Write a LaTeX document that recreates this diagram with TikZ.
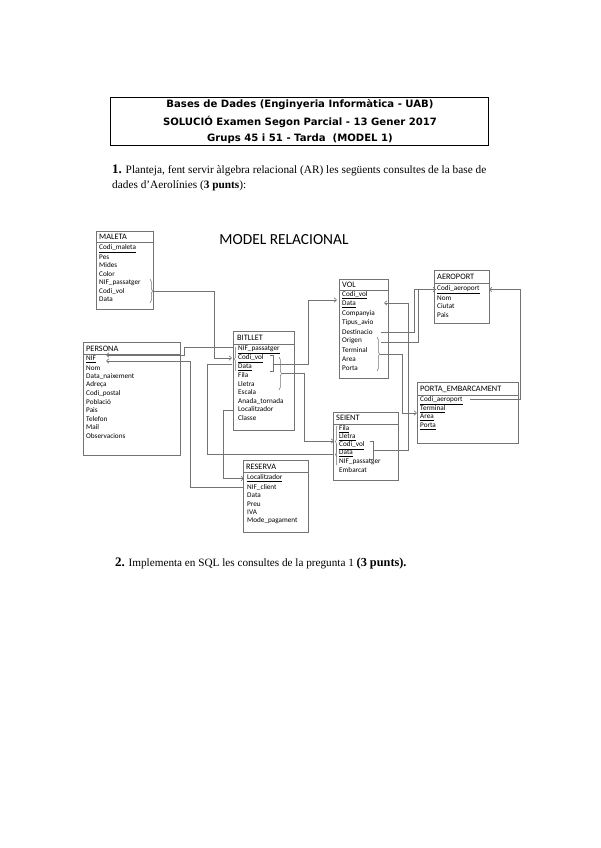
\documentclass[tikz,border=0pt]{standalone}
\usepackage{fontspec}
\setmainfont{Liberation Serif}
\newfontfamily\tabfont{Carlito}
\newfontfamily\capfont{DejaVu Sans}
\usetikzlibrary{arrows.meta,decorations.pathreplacing}

\tikzset{
  box/.style={draw=black!55, line width=0.6pt},
  thead/.style={anchor=west, inner sep=0pt, font=\tabfont\fontsize{8.3}{9}\selectfont},
  fld/.style={anchor=west, inner sep=0pt, font=\tabfont\fontsize{7.2}{8}\selectfont},
  conn/.style={draw=black!55, line width=0.6pt},
  fk/.style={conn, -{Straight Barb[length=2.5pt,width=4.5pt]}},
  brc/.style={draw=black!55, line width=0.5pt, decorate, decoration={brace, amplitude=2.5pt}},
  brk/.style={draw=black!55, line width=0.5pt},
}

\begin{document}
\begin{tikzpicture}[x=1pt, y=-1pt]
\useasboundingbox (0,0) rectangle (600,848);

% capcalera
\draw[line width=0.8pt] (110,97) rectangle (488,145);
\node (tit1) at (300,105) {\capfont\bfseries\fontsize{10.1}{12}\selectfont Bases de Dades (Enginyeria Informàtica - UAB)};
\node (tit2) at (300,122) {\capfont\bfseries\fontsize{10.1}{12}\selectfont SOLUCIÓ Examen Segon Parcial - 13 Gener 2017};
\node (tit3) at (300,139) {\capfont\bfseries\fontsize{10.1}{12}\selectfont Grups 45 i 51 - Tarda\ \ (MODEL 1)};

% pregunta 1
\node[anchor=west, inner sep=0pt] (preg1a) at (112,170) {\fontsize{11.3}{13}\selectfont{\fontsize{13}{13}\selectfont\bfseries 1.} Planteja, fent servir àlgebra relacional (AR) les següents consultes de la base de};
\node[anchor=west, inner sep=0pt] (preg1b) at (112,186) {\fontsize{11.3}{13}\selectfont dades d'Aerolínies (\textbf{3 punts}):};

\node (model) at (284,240) {\tabfont\fontsize{15.4}{17}\selectfont MODEL RELACIONAL};

% MALETA
\draw[box] (96,231) rectangle (153,309);
\draw[box] (96,242) -- (153,242);
\node[thead] (maleta) at (99,236.5) {MALETA};
\node[fld] (malCodi) at (99,248.5) {\underline{Codi\_maleta}};
\node[fld] (malPes) at (99,257) {Pes};
\node[fld] (malMides) at (99,265.5) {Mides};
\node[fld] (malColor) at (99,274) {Color};
\node[fld] (malNIF) at (99,282.5) {NIF\_passatger};
\node[fld] (malVol) at (99,291) {Codi\_vol};
\node[fld] (malData) at (99,299.5) {Data};
\draw[brc] (150,279) -- (150,303);
\coordinate (malTip) at (153,291);

% PERSONA
\draw[box] (83,342) rectangle (180,455);
\draw[box] (83,354) -- (180,354);
\node[thead] (persona) at (86,348.5) {PERSONA};
\node[fld] (perNIF) at (86,359.5) {\underline{NIF}};
\node[fld] (perNom) at (86,368) {Nom};
\node[fld] (perNaix) at (86,376.5) {Data\_naixement};
\node[fld] (perAdr) at (86,385) {Adreça};
\node[fld] (perCP) at (86,393.5) {Codi\_postal};
\node[fld] (perPob) at (86,402) {Població};
\node[fld] (perPais) at (86,410.5) {Pais};
\node[fld] (perTel) at (86,419) {Telefon};
\node[fld] (perMail) at (86,427.5) {Mail};
\node[fld] (perObs) at (86,436) {Observacions};
\coordinate (perIn1) at (106,355);
\coordinate (perIn2) at (106,361);

% BITLLET
\draw[box] (233,331) rectangle (294,430);
\draw[box] (233,344) -- (294,344);
\node[thead] (bitllet) at (237,338) {BITLLET};
\node[fld] (bitNIF) at (238,350) {\underline{NIF\_passatger}};
\node[fld] (bitVol) at (238,358.5) {\underline{Codi\_vol}};
\node[fld] (bitData) at (238,367) {\underline{Data}};
\node[fld] (bitFila) at (238,375.5) {Fila};
\node[fld] (bitLletra) at (238,384) {Lletra};
\node[fld] (bitEscala) at (238,392.5) {Escala};
\node[fld] (bitAnada) at (238,401) {Anada\_tornada};
\node[fld] (bitLoc) at (238,409.5) {Localitzador};
\node[fld] (bitClasse) at (238,418) {Classe};
\draw[brc, decoration={amplitude=1.5pt}] (236,371) -- (236,347);
\draw[brk] (270,355) -- (273,355) -- (273,371) -- (270,371);
\draw[brc] (279,357) -- (279,390);
\coordinate (bitNIFout) at (233,347);
\coordinate (bitLocOut) at (233,410);
\coordinate (bitIn1) at (232,358);
\coordinate (bitIn2) at (232,364);
\coordinate (bitBrk) at (273,364);
\coordinate (bitTip) at (282,373);

% VOL
\draw[box] (339,279) rectangle (388,378);
\draw[box] (339,290) -- (388,290);
\node[thead] (vol) at (342,284.5) {VOL};
\node[fld] (volCodi) at (342,295) {\underline{Codi\_vol}};
\node[fld] (volData) at (342,304.2) {\underline{Data}};
\node[fld] (volComp) at (342,313.4) {Companyia};
\node[fld] (volTipus) at (342,322.6) {Tipus\_avio};
\node[fld] (volDest) at (342,331.8) {Destinacio};
\node[fld] (volOrig) at (342,341) {Origen};
\node[fld] (volTerm) at (342,350.2) {Terminal};
\node[fld] (volArea) at (342,359.4) {Area};
\node[fld] (volPorta) at (342,368.6) {Porta};
\draw[brc] (377,337) -- (377,371);
\coordinate (volIn1) at (337,300);
\coordinate (volIn2) at (384,303);
\coordinate (volDestOut) at (381,332);
\coordinate (volOrigOut) at (381,342);
\coordinate (volTip) at (380,354);

% AEROPORT
\draw[box] (434,270) rectangle (489,323);
\draw[box] (434,283) -- (489,283);
\node[thead] (aeroport) at (437,277) {AEROPORT};
\node[fld] (aerCodi) at (437,289.5) {\underline{Codi\_aeroport}};
\node[fld] (aerNom) at (437,298) {Nom};
\node[fld] (aerCiutat) at (437,306.5) {Ciutat};
\node[fld] (aerPais) at (437,315) {Pais};
\coordinate (aerInL) at (436,289.5);
\coordinate (aerInR) at (489,289.5);

% PORTA_EMBARCAMENT
\draw[box] (417,382) rectangle (518,443);
\draw[box] (417,395) -- (518,395);
\node[thead] (porta) at (420,389.5) {PORTA\_EMBARCAMENT};
\node[fld] (porCodi) at (420,400.5) {\underline{Codi\_aeroport}};
\node[fld] (porTerm) at (420,409) {\underline{Terminal}};
\node[fld] (porArea) at (420,417.5) {\underline{Area}};
\node[fld] (porPorta) at (420,426) {\underline{Porta}};
\coordinate (porIn) at (417,413);
\coordinate (porOut) at (470,399);

% SEIENT
\draw[box] (333,412) rectangle (398,480);
\draw[box] (333,424) -- (398,424);
\node[thead] (seient) at (336,418) {SEIENT};
\node[fld] (seiFila) at (339,429.5) {\underline{Fila}};
\node[fld] (seiLletra) at (339,437.5) {\underline{Lletra}};
\node[fld] (seiVol) at (339,445.5) {\underline{Codi\_vol}};
\node[fld] (seiData) at (339,453.5) {\underline{Data}};
\node[fld] (seiNIF) at (339,461.5) {NIF\_passatger};
\node[fld] (seiEmb) at (339,470) {Embarcat};
\draw[brc, decoration={amplitude=1.5pt}] (337,457) -- (337,426);
\draw[brc, decoration={amplitude=1.5pt}] (337,465) -- (337,444);
\draw[brk] (370,441) -- (373,441) -- (373,459) -- (370,459);
\coordinate (seiIn) at (334,441);
\coordinate (seiOut) at (334,454);
\coordinate (seiBrk) at (373,450);

% RESERVA
\draw[box] (243,460) rectangle (308,532);
\draw[box] (243,472.5) -- (308,472.5);
\node[thead] (reserva) at (246,467) {RESERVA};
\node[fld] (resLoc) at (247,478.5) {\underline{Localitzador}};
\node[fld] (resNIF) at (247,487) {NIF\_client};
\node[fld] (resData) at (247,495.5) {Data};
\node[fld] (resPreu) at (247,504) {Preu};
\node[fld] (resIVA) at (247,512.5) {IVA};
\node[fld] (resMode) at (247,521) {Mode\_pagament};
\coordinate (resIn) at (244,478.5);
\coordinate (resOut) at (243,487);

% claus foranes
\draw[fk] (malTip) -- (214,291) |- (bitIn1);
\draw[fk] (bitNIFout) -- (184,347) |- (perIn1);
\draw[fk] (resOut) -- (190,487) |- (perIn2);
\draw[fk] (bitLocOut) -- (223,410) |- (resIn);
\draw[conn] (seiOut) -- (207,454) |- (bitIn2);
\draw[fk] (bitBrk) -- (308,364) |- (volIn1);
\draw[fk] (bitTip) -- (304,373) |- (seiIn);
\draw[fk] (seiBrk) -- (408,450) |- (volIn2);
\draw[fk] (volDestOut) -- (414,332) |- (aerInL);
\draw[conn] (volOrigOut) -- (418,342) |- (aerInL);
\draw[fk] (volTip) -- (402,354) |- (porIn);
\draw[fk] (porOut) -- (520,399) |- (aerInR);

% pregunta 2
\node[anchor=west, inner sep=0pt] (preg2) at (115,563) {\fontsize{11.2}{13}\selectfont{\fontsize{13}{13}\selectfont\bfseries 2.} Implementa en SQL les consultes de la pregunta 1 {\fontsize{12.3}{13}\selectfont\bfseries (3 punts).}};
\end{tikzpicture}
\end{document}
